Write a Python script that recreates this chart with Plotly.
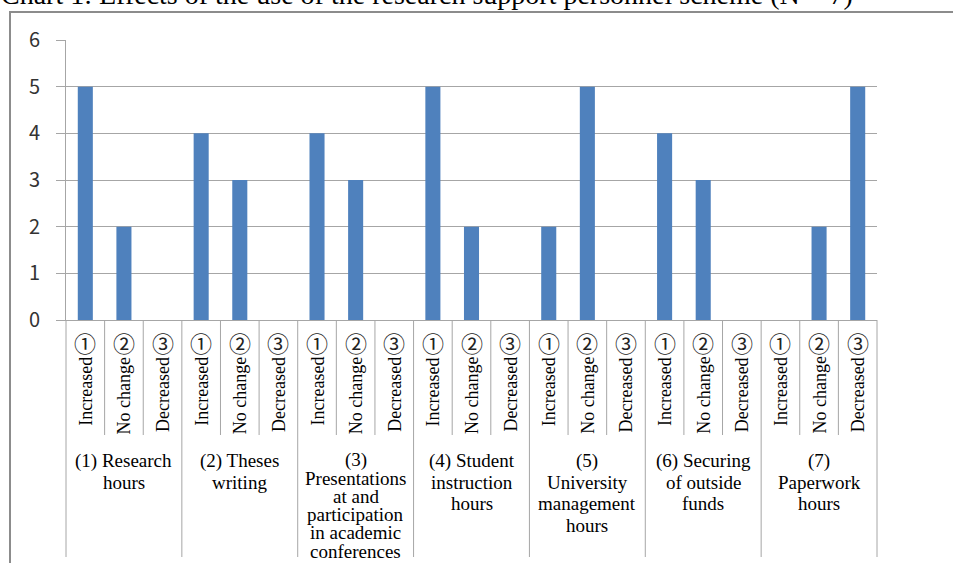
import plotly.graph_objects as go

# Survey responses per item (N = 7)
groups = [
    ["(1) Research", "hours"],
    ["(2) Theses", "writing"],
    ["(3)", "Presentations", "at and", "participation", "in academic", "conferences"],
    ["(4) Student", "instruction", "hours"],
    ["(5)", "University", "management", "hours"],
    ["(6) Securing", "of outside", "funds"],
    ["(7)", "Paperwork", "hours"],
]
responses = ["Increased", "No change", "Decreased"]
markers = ["①", "②", "③"]
increased = [5, 4, 4, 5, 2, 4, 0]
no_change = [2, 3, 3, 2, 5, 3, 2]
decreased = [0, 0, 0, 0, 0, 0, 5]
series = [increased, no_change, decreased]
y_ticks = [0, 1, 2, 3, 4, 5, 6]
title = "Chart 1: Effects of the use of the research support personnel scheme (N = 7)"

W, H = 953, 563
L, R, T, B = 66, 76, 40, 243
PW, PH = W - L - R, H - T - B
n_sub = len(responses)
n_cat = len(groups) * n_sub

BAR = "#4f81bd"
GRID = "#a6a6a6"
SERIF = "Liberation Serif"
GOTHIC = "Noto Sans CJK JP"


def fx(p):
    """pixel x -> paper x"""
    return (p - L) / PW


def fy(p):
    """pixel y -> paper y"""
    return (H - B - p) / PH


fig = go.Figure()

for k, vals in enumerate(series):
    fig.add_trace(go.Bar(
        x=[g * n_sub + k + 0.5 for g in range(len(groups))],
        y=vals,
        width=0.39,
        marker=dict(color=BAR, line=dict(width=0)),
        name=responses[k],
        hoverinfo="skip",
    ))

shapes = []
# Category dividers below the axis
for i in range(n_cat + 1):
    bottom = 557 if i % n_sub == 0 else 435
    shapes.append(dict(type="line", xref="paper", yref="paper",
                       x0=i / n_cat, x1=i / n_cat, y0=0, y1=fy(bottom),
                       line=dict(color=GRID, width=1)))

# Outer chart frame
shapes.append(dict(type="path", xref="paper", yref="paper",
                   path=f"M {fx(10)},{fy(570)} L {fx(10)},{fy(12)} L {fx(960)},{fy(12)}",
                   line=dict(color="#8c8c8c", width=2)))

annotations = []
# Title
annotations.append(dict(text=title, xref="paper", yref="paper",
                        x=fx(-1), y=fy(12), xanchor="left", yanchor="bottom",
                        showarrow=False, font=dict(family=SERIF, size=28, color="#000")))

for g in range(len(groups)):
    for k in range(n_sub):
        xc = g * n_sub + k + 0.5
        annotations.append(dict(text=markers[k], xref="x", yref="paper",
                                x=xc, y=fy(342), xanchor="center", yanchor="middle",
                                showarrow=False,
                                font=dict(family=GOTHIC, size=22, color="#222")))
        annotations.append(dict(text=responses[k], xref="x", yref="paper",
                                x=xc, y=fy(355), xanchor="center", yanchor="top",
                                textangle=-90, showarrow=False,
                                font=dict(family=SERIF, size=18, color="#000")))
    # Item label, one line at a time
    lines = groups[g]
    gap = 18.2 if len(lines) > 4 else 21.5
    start = 466 if len(lines) > 4 else 467
    for j, line in enumerate(lines):
        base = start + j * gap
        annotations.append(dict(text=line, xref="x", yref="paper",
                                x=g * n_sub + n_sub / 2, y=fy(base - 6),
                                xanchor="center", yanchor="middle", showarrow=False,
                                font=dict(family=SERIF, size=19, color="#000")))

fig.update_layout(
    width=W, height=H,
    margin=dict(l=L, r=R, t=T, b=B, pad=0),
    paper_bgcolor="white", plot_bgcolor="white",
    showlegend=False,
    barmode="overlay",
    shapes=shapes,
    annotations=annotations,
    xaxis=dict(range=[0, n_cat], showticklabels=False, ticks="", showgrid=False,
               zeroline=False, showline=True, linecolor=GRID, linewidth=1, fixedrange=True),
    yaxis=dict(range=[0, 6], tickvals=y_ticks, showgrid=True, gridcolor=GRID, gridwidth=1,
               zeroline=False, showline=True, linecolor=GRID, linewidth=1,
               ticks="outside", ticklen=9, tickcolor=GRID, tickwidth=1,
               ticklabelstandoff=12,
               tickfont=dict(family=GOTHIC, size=20, color="#333"), fixedrange=True),
)

fig.write_html("out.html", config={"displayModeBar": False})
